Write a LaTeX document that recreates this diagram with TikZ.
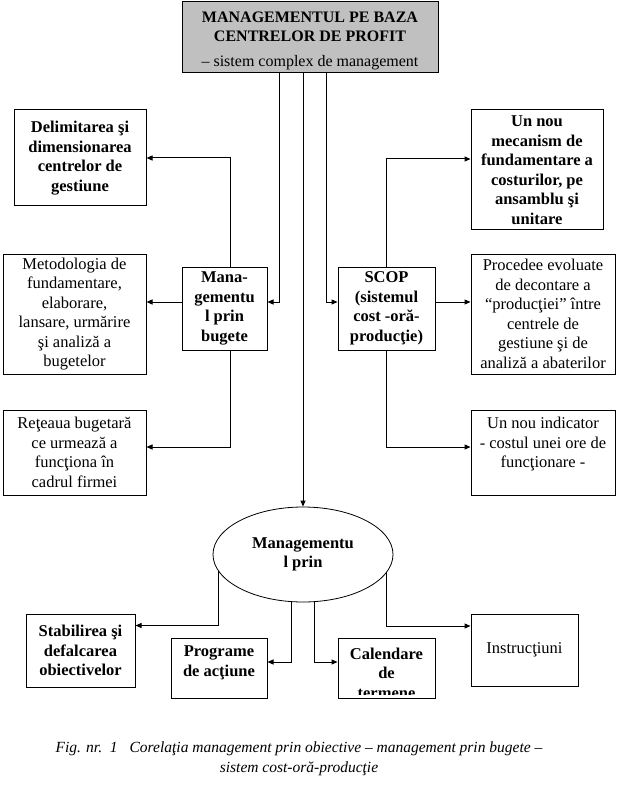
\documentclass[tikz,border=0pt]{standalone}
\usepackage{fontspec}
\setmainfont{Liberation Serif}
\usetikzlibrary{arrows.meta,shapes.geometric}
\definecolor{hdrgray}{RGB}{192,192,192}
\begin{document}
\begin{tikzpicture}[x=1pt,y=-1pt,
  box/.style={draw,line width=1pt,inner sep=0pt,align=center,font=\fontsize{16.5}{19.5}\selectfont},
  bbox/.style={box,font=\fontsize{16.5}{19.5}\selectfont\bfseries},
  txt/.style={inner sep=0pt,align=center,font=\fontsize{16.5}{19.5}\selectfont},
  btxt/.style={txt,font=\fontsize{16.5}{19.5}\selectfont\bfseries},
  arr/.style={-{Triangle[length=6pt,width=5pt]},line width=1pt},
  ln/.style={line width=1pt}]
\useasboundingbox[fill=white] (0,0) rectangle (618,786);

% top box
\node[box,fill=hdrgray,minimum width=256pt,minimum height=71pt] (top) at (310,37.5) {};
\node[txt,font=\fontsize{16}{19}\selectfont] at (310,41) {\textbf{MANAGEMENTUL PE BAZA}\\\textbf{CENTRELOR DE PROFIT}\\[6pt]– sistem complex de management};

% middle boxes
\node[bbox,minimum width=85pt,minimum height=83pt] (mana) at (224.5,308.5) {Mana-\\gementu\\l prin\\bugete};
\node[bbox,minimum width=97pt,minimum height=83pt] (scop) at (386.5,308.5) {SCOP\\(sistemul\\cost -oră-\\producţie)};

% left boxes
\node[bbox,minimum width=132pt,minimum height=96pt] (delim) at (80,158) {Delimitarea şi\\dimensionarea\\centrelor de\\gestiune};
\node[box,minimum width=143pt,minimum height=120pt] (metod) at (74.5,314) {Metodologia de\\fundamentare,\\elaborare,\\lansare, urmărire\\şi analiză a\\bugetelor};
\node[box,minimum width=143pt,minimum height=85pt] (retea) at (74.5,452.5) {Reţeaua bugetară\\ce urmează a\\funcţiona în\\cadrul firmei};

% right boxes
\node[bbox,minimum width=132pt,minimum height=120pt] (mecan) at (537,170) {Un nou\\mecanism de\\fundamentare a\\costurilor, pe\\ansamblu şi\\unitare};
\node[box,minimum width=144pt,minimum height=120pt] (proced) at (543,314) {Procedee evoluate\\de decontare a\\“producţiei” între\\centrele de\\gestiune şi de\\analiză a abaterilor};
\node[box,minimum width=144pt,minimum height=85pt] (indic) at (543,452.5) {};
\node[txt] at ([yshift=8pt]indic.center) {Un nou indicator\\- costul unei ore de\\funcţionare -};

% ellipse
\node[draw,ellipse,line width=0.8pt,minimum width=180pt,minimum height=95pt,inner sep=0pt,align=center,font=\fontsize{16.5}{19.5}\selectfont\bfseries] (ell) at (303,554.5) {Managementu\\l prin};

% bottom boxes
\node[bbox,minimum width=109pt,minimum height=73pt] (stab) at (80.5,650.5) {Stabilirea şi\\defalcarea\\obiectivelor};
\node[box,minimum width=96pt,minimum height=60pt] (progr) at (219,668) {};
\node[btxt] at ([yshift=5pt]progr.center) {Programe\\de acţiune};
\node[box,minimum width=97pt,minimum height=60pt] (cal) at (386.5,668) {};
\begin{scope}
  \clip ([yshift=-1pt]cal.north west) rectangle ([yshift=4pt]cal.south east);
  \node[btxt,anchor=north] at ([yshift=-10pt]cal.north) {Calendare\\de\\termene};
\end{scope}
\node[box,minimum width=107pt,minimum height=72pt] (instr) at (524.5,650) {Instrucţiuni};

% connectors from top
\draw[arr] ([xshift=-31pt]top.south) |- ([yshift=6.5pt]mana.east);
\draw[arr] (ell.north |- top.south) -- (ell.north);
\draw[arr] ([xshift=16pt]top.south) |- ([yshift=6.5pt]scop.west);

% from mana
\draw[arr] ([xshift=5.5pt]mana.north) |- (delim.east);
\coordinate (mw) at ([yshift=6.5pt]mana.west);
\draw[arr] (mw) -- (mw -| metod.east);
\draw[arr] ([xshift=5.5pt]mana.south) |- ([yshift=5.5pt]retea.east);

% from scop
\draw[arr] (scop.north) |- ([yshift=11pt]mecan.west);
\coordinate (se) at ([yshift=6.5pt]scop.east);
\draw[arr] (se) -- (se -| proced.west);
\draw[arr] (scop.south) |- ([yshift=5.5pt]indic.west);

% from ellipse
\coordinate (e1) at (218,571);
\coordinate (e2) at (386,572);
\draw[arr] (e1) |- ([yshift=25pt]stab.east);
\draw[arr] ([xshift=-12pt]ell.south) |- ([yshift=6pt]progr.east);
\draw[arr] ([xshift=11pt]ell.south) |- ([yshift=6pt]cal.west);
\draw[arr] (e2) |- ([yshift=24pt]instr.west);

% caption
\node[txt,font=\fontsize{15.5}{20}\selectfont\itshape] (cap) at (299,759) {Fig. nr.\ \ 1\hspace{12pt}Corelaţia management prin obiective – management prin bugete –\\sistem cost-oră-producţie};
\end{tikzpicture}
\end{document}
